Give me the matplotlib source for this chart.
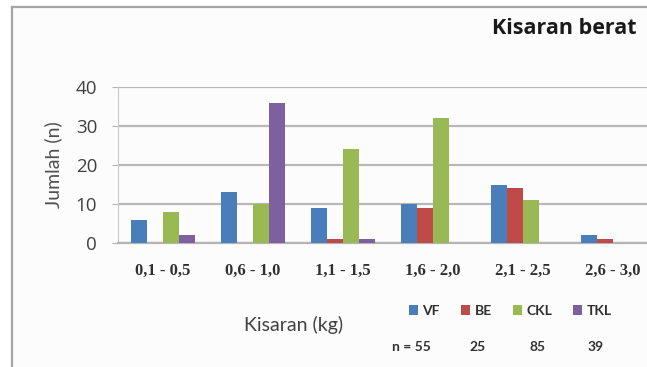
import matplotlib
matplotlib.use("Agg")
import matplotlib.pyplot as plt
import numpy as np
from matplotlib.lines import Line2D

# --- Data: frequency per weight range ---
ranges = ["0,1 - 0,5", "0,6 - 1,0", "1,1 - 1,5", "1,6 - 2,0", "2,1 - 2,5", "2,6 - 3,0"]
groups = ["VF", "BE", "CKL", "TKL"]
vf = [6, 13, 9, 10, 15, 2]
be = [0, 0, 1, 9, 14, 1]
ckl = [8, 10, 24, 32, 11, 0]
tkl = [2, 36, 1, 0, 0, 0]
colors = ["#4a7ebb", "#be4b48", "#98b954", "#7d60a0"]

series = [vf, be, ckl, tkl]
totals = [sum(s) for s in series]

W, H = 647, 367
fig = plt.figure(figsize=(W / 100, H / 100), dpi=100)
fig.patch.set_facecolor("white")

# chart frame (left and top edges)
fig.add_artist(Line2D([12 / W, 12 / W], [0, 1 - 7 / H], color="#a6a6a6", lw=1.6))
fig.add_artist(Line2D([12 / W, 1], [1 - 7 / H, 1 - 7 / H], color="#a6a6a6", lw=1.6))
fig.patches.append(plt.Rectangle((13 / W, 0), 1, 1 - 8 / H, transform=fig.transFigure,
                                 facecolor="#fcfcfc", edgecolor="none", zorder=-1))

ax = fig.add_axes([118 / W, 124 / H, 540 / W, 156 / H])
ax.set_facecolor("none")

x = np.arange(len(ranges))
bw = 0.18
handles = []
for i, (vals, c) in enumerate(zip(series, colors)):
    b = ax.bar(x + (i - 1.5) * bw, vals, width=bw, color=c, zorder=3, label=groups[i])
    handles.append(b)

ax.set_xlim(-0.5, len(ranges) - 0.5)
ax.set_ylim(0, 40)
ax.set_yticks([0, 10, 20, 30, 40])
ax.yaxis.grid(True, color="#b8b8b8", lw=1.6, zorder=0)
ax.set_axisbelow(True)
for s in ["top", "right"]:
    ax.spines[s].set_visible(False)
ax.spines["left"].set_color("#c8c8c8")
ax.spines["bottom"].set_color("#b4b4b4")
ax.spines["bottom"].set_linewidth(1.6)
ax.tick_params(axis="y", length=4, color="#b4b4b4", labelsize=13.5, labelcolor="#404040", pad=11)
ax.tick_params(axis="x", length=0, pad=14)
for lbl in ax.get_yticklabels():
    lbl.set_family("Open Sans")
ax.set_xticks(x)
ax.set_xticklabels(ranges, fontsize=12, family="Liberation Serif", fontweight="bold",
                   color="#303030")
ax.set_ylabel("Jumlah (n)", fontsize=14, color="#505050", family="Lato", labelpad=10)

fig.text(294 / W, 1 - 325 / H, "Kisaran (kg)", fontsize=14, color="#404040",
         family="Lato", ha="center", va="center")
fig.text(492 / W, 1 - 28 / H, "Kisaran berat", fontsize=15.5, fontweight="bold",
         color="#1a1a1a", family="Open Sans", ha="left", va="center")

fig.legend(handles=handles, labels=groups, ncol=4, loc="center left",
           bbox_to_anchor=(396 / W, 1 - 311 / H), frameon=False,
           handlelength=0.65, handleheight=0.65, handletextpad=0.35,
           columnspacing=1.5, prop={"family": "Lato", "size": 10, "weight": "bold"},
           labelcolor="#303030")

# sample sizes under the legend
n_x = [411, 478, 538, 596]
for i, (xx, n) in enumerate(zip(n_x, totals)):
    label = f"n = {n}" if i == 0 else str(n)
    fig.text(xx / W, 1 - 347 / H, label, fontsize=10, fontweight="bold", family="Lato",
             color="#303030", ha="center", va="center")

fig.savefig("out.png", dpi=100)
